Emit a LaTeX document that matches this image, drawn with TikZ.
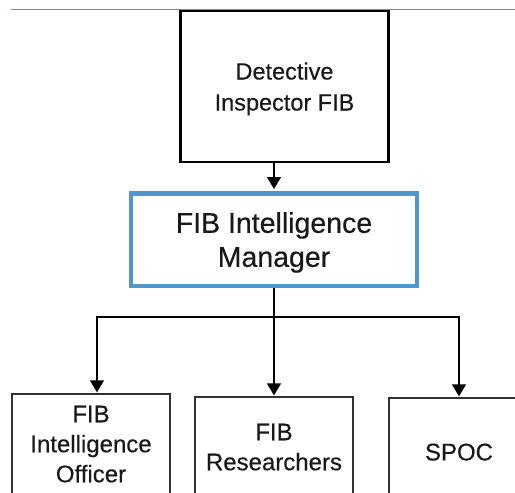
\documentclass[tikz,border=0pt]{standalone}
\usepackage{fontspec}
\setmainfont[FakeBold=0.4]{Liberation Sans}
\usetikzlibrary{arrows.meta}
\definecolor{boxblue}{RGB}{80,150,205}
\definecolor{bottomline}{RGB}{50,50,50}
\definecolor{rulegray}{RGB}{150,125,135}
\definecolor{textcol}{RGB}{25,25,25}
\begin{document}
\begin{tikzpicture}[x=1pt,y=-1pt,
  topbox/.style={draw=black,line width=2.6pt,minimum width=208pt,minimum height=151pt,
    inner sep=0pt,align=center,text depth=0pt,text=textcol,font=\fontsize{23.5}{31}\selectfont},
  bluebox/.style={draw=boxblue,line width=4.5pt,minimum width=286pt,minimum height=92.5pt,
    inner sep=0pt,align=center,text depth=0pt,text=textcol,font=\fontsize{28.5}{34}\selectfont},
  lowbox/.style={draw=bottomline,line width=1.8pt,minimum height=100pt,
    inner sep=0pt,align=center,text depth=0pt,text=textcol,font=\fontsize{24}{30}\selectfont},
  arr/.style={-{Triangle[width=14pt,length=12pt]},line width=1.4pt,black}]
\useasboundingbox (0,0) rectangle (515,493);
\clip (0,0) rectangle (515,493);
\draw[rulegray,line width=1pt] (11,9.5) -- (515,9.5);
\node[topbox] (top) at (284.5,86.5) {Detective\\Inspector FIB};
\node[bluebox] (mgr) at (274,239.5) {FIB Intelligence\\Manager};
\node[lowbox,minimum width=158pt] (left) at (91,444) {FIB\\Intelligence\\Officer};
\node[lowbox,minimum width=158pt] (mid) at (274,447) {FIB\\Researchers};
\node[lowbox,minimum width=140pt,minimum height=108pt] (right) at (459,452) {SPOC};
\coordinate (bus) at (274,317);
\draw[arr,shorten >=2pt] (mgr.north |- top.south) -- (mgr.north);
\draw[arr,shorten >=0.8pt] (mgr.south) -- (mid.north);
\draw[arr,shorten >=0.8pt] (bus) -| ([xshift=6pt]left.north);
\draw[arr,shorten >=0.8pt] (bus) -| (right.north);
\end{tikzpicture}
\end{document}
